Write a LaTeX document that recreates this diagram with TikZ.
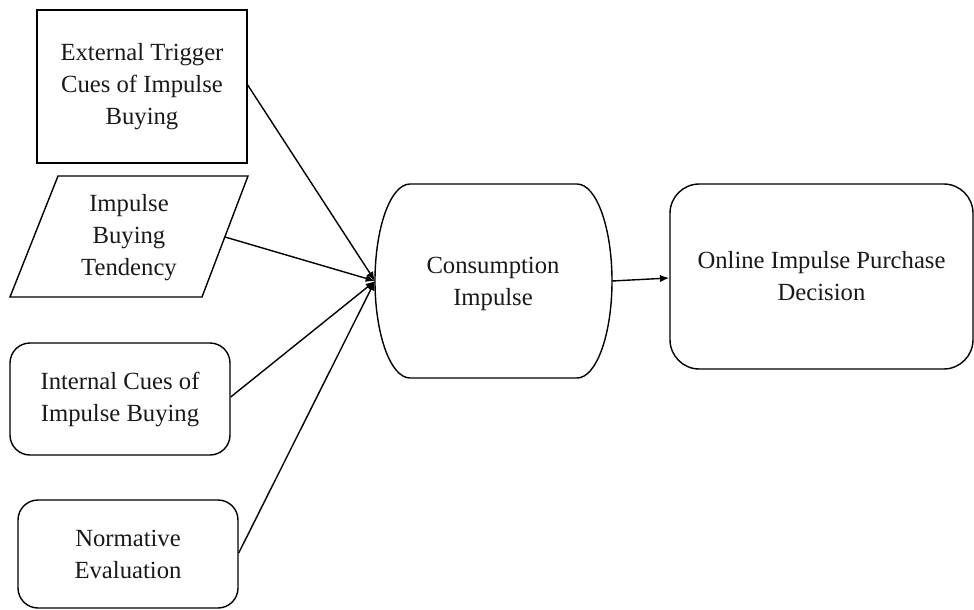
\documentclass[tikz,border=0pt]{standalone}
\usepackage{fontspec}
\setmainfont{Liberation Serif}
\usetikzlibrary{arrows.meta}
\begin{document}
\begin{tikzpicture}[x=0.75pt,y=-0.75pt,
  lbl/.style={font=\fontsize{18.5pt}{24pt}\selectfont, align=center, text=black!90},
  boxsq/.style={lbl, draw, line width=1.05pt, inner sep=0pt},
  boxrd/.style={boxsq, rounded corners=15pt},
  conn/.style={line width=1.05pt, -{Latex[length=7pt,width=5.5pt]}}]
\useasboundingbox (0,0) rectangle (974,610);
% External trigger
\node[boxsq, minimum width=157.5pt, minimum height=114.75pt] (ext) at (142,86.5)
  {External Trigger\\Cues of Impulse\\Buying};
% Parallelogram
\draw[line width=1.05pt] (58,176) -- (248,176) -- (202,297) -- (10,297) -- cycle;
\node[lbl] (ibt) at (129,238) {Impulse\\Buying\\Tendency};
\coordinate (ibte) at (225,237);
% Internal cues
\node[boxrd, minimum width=165pt, minimum height=84pt] (int) at (120,399)
  {Internal Cues of\\Impulse Buying};
% Normative
\node[boxrd, minimum width=165pt, minimum height=81pt] (nor) at (128,554)
  {Normative\\Evaluation};
% Consumption impulse
\draw[line width=1.05pt] (410,184) -- (577,184)
  .. controls (596.3,184) and (612,227.4) .. (612,281)
  .. controls (612,334.6) and (596.3,378) .. (577,378)
  -- (410,378)
  .. controls (390.7,378) and (375,334.6) .. (375,281)
  .. controls (375,227.4) and (390.7,184) .. (410,184);
\node[lbl] (ci) at (493,284) {Consumption\\Impulse};
\coordinate (cin) at (375,281);
\coordinate (cout) at (612,281);
% Online decision
\node[boxsq, rounded corners=22pt, minimum width=227.25pt, minimum height=138.75pt] (on) at (821.5,276.5)
  {Online Impulse Purchase\\Decision};
% Connectors
\draw[conn] (ext.east |- 0,85) -- (cin);
\draw[conn] (ibte) -- (cin);
\draw[conn] (int.east |- 0,397) -- (cin);
\draw[conn] (nor.east |- 0,553) -- (cin);
\draw[conn] (cout) -- (on.west |- 0,278);
\end{tikzpicture}
\end{document}
